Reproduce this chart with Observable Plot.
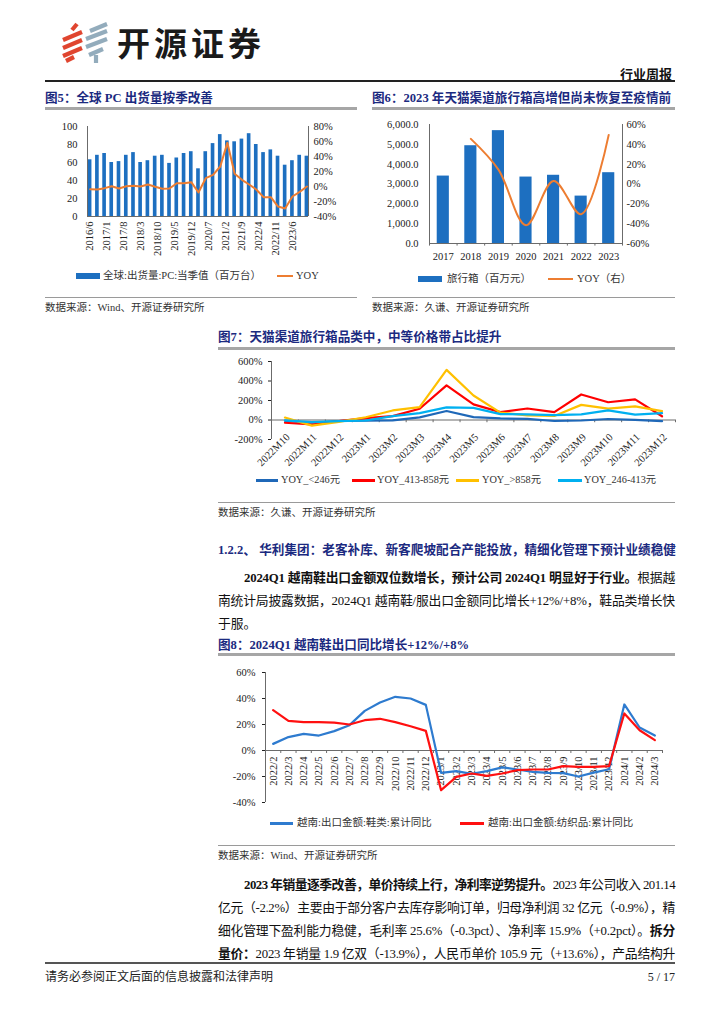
<!DOCTYPE html>
<html lang="zh-CN">
<head>
<meta charset="utf-8">
<script src="https://cdn.jsdelivr.net/npm/d3@7"></script>
<script src="https://cdn.jsdelivr.net/npm/@observablehq/plot@0.6"></script>
<style>
html,body{margin:0;padding:0;background:#fff;}
#page{position:relative;width:724px;height:1024px;overflow:hidden;font-family:"Liberation Serif","Noto Sans CJK SC",serif;color:#111;}
#page .a{position:absolute;white-space:nowrap;}
.ttl{font-family:"Liberation Serif","Noto Sans CJK SC",serif;font-weight:bold;color:#1b2a80;font-size:12.6px;line-height:16px;}
.src{font-size:10.5px;color:#333;line-height:12px;}
.rt{height:2.5px;background:#a6a6a6;}
.rs{height:1px;background:#9a9a9a;}
.leg{font-size:10.5px;color:#333;line-height:12px;}
.ln{font-size:12.8px;line-height:23px;height:23px;color:#111;}
.ln b{font-weight:bold;}
.chart svg{display:block;}
</style>
</head>
<body>
<div id="page"></div>
<script>
// ---------------- data ----------------
// Fig5: global PC shipments (quarterly, million units) and YoY (%)
const pcQuarters = ["2016/6","2016/9","2016/12","2017/3","2017/6","2017/9","2017/12","2018/3","2018/6","2018/9","2018/12","2019/3","2019/6","2019/9","2019/12","2020/3","2020/6","2020/9","2020/12","2021/3","2021/6","2021/9","2021/12","2022/3","2022/6","2022/9","2022/12","2023/3","2023/6","2023/9","2023/12"];
const pcShip = [63,68,70,60,61,68,71,60,62,67,68,59,65,70,72,53,72,81,91,84,83,86,92,80,71,74,67,57,62,68,67];
const pcYoy = [-3.6,-4,-2.2,0.4,-2.7,0.4,0.9,0,2.7,-0.4,-3.1,-2.7,4.4,4.4,5.8,-8,11.1,15.6,26.7,58.2,16.9,8.9,2.7,-4,-14.2,-14.2,-26.7,-29.3,-13.3,-7.1,0];
const pcTickLabels = ["2016/6","2017/1","2017/8","2018/3","2018/10","2019/5","2019/12","2020/7","2021/2","2021/9","2022/4","2022/11","2023/6"];
const pcLeftTicks = [0,20,40,60,80,100];
const pcRightTicks = [-40,-20,0,20,40,60,80];

// Fig6: Tmall luggage sales (million yuan) and YoY (%)
const f6Years = ["2017","2018","2019","2020","2021","2022","2023"];
const f6Sales = [3400,4930,5690,3350,3440,2390,3570];
const f6Yoy = [null,45.5,14.5,-41.5,3,-30.5,49.5];
const f6LeftTicks = [0,1000,2000,3000,4000,5000,6000];
const f6RightTicks = [-60,-40,-20,0,20,40,60];

// Fig7: Tmall luggage YoY by price band (%)
const f7Cats = ["2022M10","2022M11","2022M12","2023M1","2023M2","2023M3","2023M4","2023M5","2023M6","2023M7","2023M8","2023M9","2023M10","2023M11","2023M12"];
const f7Low = [-8,-28,-10,-6,-3,27,92,30,16,12,-10,-5,10,2,-12];
const f7Mid = [-28,-46,-10,20,40,115,355,160,81,118,81,262,182,212,38];
const f7High = [25,-58,-20,28,98,132,514,251,76,48,42,155,116,139,91];
const f7MidLow = [-3,-22,-12,-5,40,71,130,124,61,58,50,57,99,55,70];
const f7Names = ["YOY_<246元","YOY_413-858元","YOY_>858元","YOY_246-413元"];
const f7Ticks = [-200,0,200,400,600];

// Fig8: Vietnam exports, cumulative YoY (%)
const f8Cats = ["2022/2","2022/3","2022/4","2022/5","2022/6","2022/7","2022/8","2022/9","2022/10","2022/11","2022/12","2023/1","2023/2","2023/3","2023/4","2023/5","2023/6","2023/7","2023/8","2023/9","2023/10","2023/11","2023/12","2024/1","2024/2","2024/3"];
const f8Shoes = [5.1,10.3,12.8,11.5,14.9,19.5,30.5,36.9,41.3,40,35.1,-17.2,-15.9,-18,-15.9,-13,-14.6,-16.4,-17.2,-17.4,-20,-17,-14.4,35.4,17.7,11.5];
const f8Textile = [31,22.8,21.8,21.8,21.5,20,23.3,24.4,21.8,18.7,15.1,-30.5,-20.3,-17.7,-19.5,-17.7,-15.1,-14.6,-14.6,-12,-12.6,-12.6,-12,28.5,15.6,8];
const f8Names = ["越南:出口金额:鞋类:累计同比","越南:出口金额:纺织品:累计同比"];
const f8Ticks = [-40,-20,0,20,40,60];

// ---------------- styles ----------------
const FONT = "'Liberation Serif','Noto Sans CJK SC',serif";
const BLUE = "#1d6fc0", ORANGE = "#ed7d31", AX = "#6b6b6b";
const F7COLORS = ["#1f68b8","#ff0000","#ffc000","#00b0f0"];
const F8COLORS = ["#2e7bcf","#ff1010"];
const baseStyle = {fontFamily: FONT, fontSize: "10.5px", color: "#222", overflow: "visible", background: "transparent"};

const page = document.getElementById("page");
function el(html, cls, css){ const d = document.createElement("div"); d.className = "a " + (cls||""); d.style.cssText = css; d.innerHTML = html; page.appendChild(d); return d; }

// ---------------- header ----------------
page.insertAdjacentHTML("beforeend", `<svg class="a" style="left:0;top:0" width="130" height="70">
 <g stroke="#e0452f" stroke-width="4.2">
  <line x1="72" y1="30" x2="77" y2="24"/>
  <line x1="63" y1="40" x2="82" y2="32"/>
  <line x1="63" y1="48" x2="82" y2="40"/>
  <line x1="63" y1="56" x2="82" y2="48"/>
  <line x1="66" y1="61" x2="74" y2="57"/>
 </g>
 <g stroke="#93acbc" stroke-width="4.2">
  <line x1="90" y1="31" x2="107" y2="24"/>
  <line x1="86" y1="39" x2="107" y2="31"/>
  <line x1="86" y1="47" x2="107" y2="39"/>
  <line x1="89" y1="55" x2="103" y2="49"/>
  <line x1="96" y1="55" x2="96" y2="63"/>
 </g></svg>`);
el("开源证券","","left:117px;top:22px;font-family:'Noto Sans CJK SC';font-weight:bold;font-size:33px;line-height:40px;letter-spacing:4px;color:#1a1a1a;");
el("行业周报","","right:52px;top:66px;font-family:'Noto Sans CJK SC';font-weight:bold;font-size:13px;line-height:16px;color:#111;");
el("","","left:45px;top:80px;width:630px;height:1.6px;background:#222;");

// ---------------- titles, rules, sources ----------------
el("图5：全球 PC 出货量按季改善","ttl","left:45px;top:90px;");
el("图6：2023 年天猫渠道旅行箱高增但尚未恢复至疫情前","ttl","left:372px;top:90px;");
el("","rt","left:45px;top:107px;width:312px;");
el("","rt","left:372px;top:107px;width:303px;");
el("","rs","left:45px;top:297px;width:312px;");
el("","rs","left:372px;top:297px;width:303px;");
el("数据来源：Wind、开源证券研究所","src","left:45px;top:302px;");
el("数据来源：久谦、开源证券研究所","src","left:372px;top:302px;");

el("图7：天猫渠道旅行箱品类中，中等价格带占比提升","ttl","left:218px;top:329px;");
el("","rt","left:218px;top:347px;width:457px;");
el("","rs","left:218px;top:502px;width:457px;");
el("数据来源：久谦、开源证券研究所","src","left:218px;top:507px;");

const head = el("<span>1.2.2、 华利集团：老客补库、新客爬坡配合产能投放，精细化管理下预计业绩稳健</span>","ttl","left:218px;top:542px;font-size:12.6px;");

const lines = [];
function para(html, top, indent, fit){ const d = el(`<span>${html}</span>`,"ln",`left:218px;top:${top}px;padding-left:${indent?26:0}px;`); if(fit) lines.push([d, indent?431:457]); return d; }
para("<b>2024Q1 越南鞋出口金额双位数增长，预计公司 2024Q1 明显好于行业。</b>根据越", 566.5, true, true);
para("南统计局披露数据，2024Q1 越南鞋/服出口金额同比增长+12%/+8%，鞋品类增长快", 589.5, false, true);
para("于服。", 612.5, false, false);

el("图8：2024Q1 越南鞋出口同比增长+12%/+8%","ttl","left:218px;top:637px;");
el("","rt","left:218px;top:653px;width:457px;");
el("","rs","left:218px;top:845px;width:457px;");
el("数据来源：Wind、开源证券研究所","src","left:218px;top:850px;");

para("<b>2023 年销量逐季改善，单价持续上行，净利率逆势提升。</b>2023 年公司收入 201.14", 873.5, true, true);
para("亿元（-2.2%）主要由于部分客户去库存影响订单，归母净利润 32 亿元（-0.9%），精", 896.5, false, true);
para("细化管理下盈利能力稳健，毛利率 25.6%（-0.3pct）、净利率 15.9%（+0.2pct）。<b>拆分</b>", 919.5, false, true);
para("<b>量价：</b>2023 年销量 1.9 亿双（-13.9%），人民币单价 105.9 元（+13.6%），产品结构升", 942.5, false, true);

el("","","left:45px;top:962px;width:630px;height:2px;background:#555;");
el("请务必参阅正文后面的信息披露和法律声明","","left:45px;top:970px;font-size:12px;line-height:14px;color:#222;");
el("5 / 17","","right:49px;top:970px;font-size:12px;line-height:14px;color:#222;");

function fitLine(d, W){ const s = d.firstChild; const w = s.getBoundingClientRect().width; const n = s.textContent.length; s.style.letterSpacing = ((W - w)/n) + "px"; }
lines.forEach(([d,W]) => fitLine(d,W));
fitLine(head, 458);

// ---------------- legends ----------------
function legRect(x,y,w,h,color){ el("","",`left:${x}px;top:${y}px;width:${w}px;height:${h}px;background:${color};`); }
legRect(76,273,24,6,BLUE); el("全球:出货量:PC:当季值（百万台）","leg","left:103px;top:270px;");
legRect(277,275,16,2.2,ORANGE); el("YOY","leg","left:296px;top:270px;");
legRect(418,276,24,6,BLUE); el("旅行箱（百万元）","leg","left:447px;top:273px;");
legRect(548,278,25,2.2,ORANGE); el("YOY（右）","leg","left:577px;top:273px;");
const f7LegX = [[256,22,281],[352,23,377],[456,23,482],[558,24,584]];
f7Names.forEach((n,i)=>{ legRect(f7LegX[i][0],479,f7LegX[i][1],2.5,F7COLORS[i]); el(n,"leg",`left:${f7LegX[i][2]}px;top:474px;font-size:10.3px;`); });
const f8LegX = [[270,23,297],[460,24,488]];
f8Names.forEach((n,i)=>{ legRect(f8LegX[i][0],822,f8LegX[i][1],2.5,F8COLORS[i]); el(n,"leg",`left:${f8LegX[i][2]}px;top:817px;`); });

// ---------------- charts ----------------
function place(svg, x, y){ const d = document.createElement("div"); d.className = "a chart"; d.style.left = x+"px"; d.style.top = y+"px"; d.appendChild(svg); page.appendChild(d); }
const ym = s => { const [y,m] = s.split("/").map(Number); return new Date(Date.UTC(y, m-1, 1)); };

// Fig5
const pcD = pcQuarters.map((q,i)=>({date: ym(q), v: pcShip[i], yoy: pcYoy[i]}));
const pxLo = d3.utcDay.offset(pcD[0].date, -33), pxHi = d3.utcDay.offset(pcD[pcD.length-1].date, 20);
const toL5 = p => (p + 40) / 120 * 100;
place(Plot.plot({
  width: 320, height: 155, marginLeft: 47, marginRight: 52, marginTop: 11, marginBottom: 54,
  style: baseStyle,
  x: {type: "utc", domain: [pxLo, pxHi], axis: null},
  y: {domain: [0, 100]},
  marks: [
    Plot.rectY(pcD, {x1: d => d3.utcDay.offset(d.date, -23), x2: d => d3.utcDay.offset(d.date, 23), y: "v", fill: BLUE}),
    Plot.ruleY([0], {stroke: AX}),
    Plot.ruleX([pxLo, pxHi], {stroke: AX}),
    Plot.line(pcD, {x: "date", y: d => toL5(d.yoy), stroke: ORANGE, strokeWidth: 2}),
    Plot.axisY(pcLeftTicks, {anchor: "left", tickSize: 0, tickPadding: 10, label: null}),
    Plot.axisY(pcRightTicks.map(toL5), {anchor: "right", tickSize: 0, tickPadding: 5, label: null, tickFormat: v => Math.round(v * 1.2 - 40) + "%"}),
    Plot.text(pcTickLabels, {x: d => ym(d), y: () => 0, text: d => d, rotate: -90, textAnchor: "end", dy: 5, fill: "#222"})
  ]
}), 40, 115);

// Fig6
const f6D = f6Years.map((y,i)=>({i, year: y, v: f6Sales[i], yoy: f6Yoy[i]}));
const n6 = f6Years.length;
const toL6 = p => (p + 60) * 50;
place(Plot.plot({
  width: 320, height: 155, marginLeft: 69, marginRight: 58, marginTop: 9, marginBottom: 27,
  style: baseStyle,
  x: {domain: [-0.5, n6 - 0.5], axis: null},
  y: {domain: [0, 6000]},
  marks: [
    Plot.rectY(f6D, {x1: d => d.i - 0.22, x2: d => d.i + 0.22, y: "v", fill: BLUE}),
    Plot.ruleY([0], {stroke: AX}),
    Plot.ruleX([-0.5, n6 - 0.5], {stroke: AX}),
    Plot.ruleX(d3.range(n6 + 1).map(i => i - 0.5), {y1: 0, y2: -130, stroke: AX}),
    Plot.line(f6D.filter(d => d.yoy != null), {x: "i", y: d => toL6(d.yoy), stroke: ORANGE, strokeWidth: 2, curve: "catmull-rom"}),
    Plot.axisY(f6LeftTicks, {anchor: "left", tickSize: 0, tickPadding: 11, label: null, tickFormat: d3.format(",.1f")}),
    Plot.axisY(f6RightTicks.map(toL6), {anchor: "right", tickSize: 0, tickPadding: 4, label: null, tickFormat: v => Math.round(v / 50 - 60) + "%"}),
    Plot.text(f6D, {x: "i", y: () => 0, text: "year", dy: 13, fill: "#222"})
  ]
}), 360, 115);

// Fig7
const n7 = f7Cats.length;
const f7Vals = [f7Low, f7Mid, f7High, f7MidLow];
const f7D = f7Names.flatMap((s,k) => f7Vals[k].map((v,i) => ({i, v, s})));
place(Plot.plot({
  width: 470, height: 120, marginLeft: 61, marginRight: 5, marginTop: 9, marginBottom: 33,
  style: baseStyle,
  x: {domain: [-0.5, n7 - 0.5], axis: null},
  y: {domain: [-200, 600]},
  color: {domain: f7Names, range: F7COLORS},
  marks: [
    Plot.ruleY([0], {stroke: AX}),
    Plot.ruleX([-0.5], {stroke: AX}),
    Plot.ruleX(d3.range(n7 + 1).map(i => i - 0.5), {y1: 0, y2: -28, stroke: AX}),
    Plot.line(f7D, {x: "i", y: "v", z: "s", stroke: "s", strokeWidth: 2.2}),
    Plot.axisY(f7Ticks, {anchor: "left", tickSize: 3, tickPadding: 6, label: null, tickFormat: v => v + "%"}),
    Plot.text(f7Cats, {x: (d,i) => i, y: () => -200, text: d => d, rotate: -45, textAnchor: "end", dx: 3, dy: -4, fill: "#222"})
  ]
}), 210, 352);

// Fig8
const n8 = f8Cats.length;
const f8Vals = [f8Shoes, f8Textile];
const f8D = f8Names.flatMap((s,k) => f8Vals[k].map((v,i) => ({i, v, s})));
place(Plot.plot({
  width: 470, height: 145, marginLeft: 60, marginRight: 13, marginTop: 7, marginBottom: 8,
  style: baseStyle,
  x: {domain: [-0.5, n8 - 0.5], axis: null},
  y: {domain: [-40, 60]},
  color: {domain: f8Names, range: F8COLORS},
  marks: [
    Plot.ruleY([0], {stroke: AX}),
    Plot.ruleX([-0.5], {stroke: AX}),
    Plot.ruleX(d3.range(n8 + 1).map(i => i - 0.5), {y1: 0, y2: -2.3, stroke: AX}),
    Plot.text(f8Cats, {x: (d,i) => i, y: () => 0, text: d => d, rotate: -90, textAnchor: "end", dy: 6, fill: "#222"}),
    Plot.line(f8D, {x: "i", y: "v", z: "s", stroke: "s", strokeWidth: 2.2}),
    Plot.axisY(f8Ticks, {anchor: "left", tickSize: 3, tickPadding: 7, label: null, tickFormat: v => v + "%"})
  ]
}), 205, 665);
</script>
</body>
</html>
